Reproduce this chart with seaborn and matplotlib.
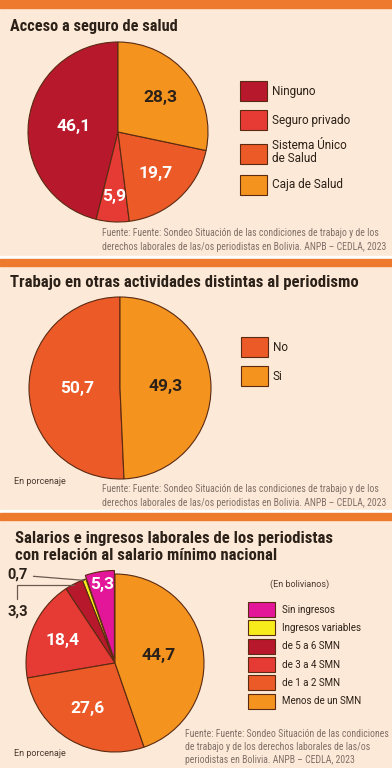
import matplotlib
matplotlib.use("Agg")
import matplotlib.pyplot as plt
import matplotlib.font_manager as fm
from matplotlib.patches import Rectangle
import seaborn as sns
import numpy as np

# Datos de los tres graficos
seguro_labels = ["Ninguno", "Seguro privado", "Sistema Único\nde Salud", "Caja de Salud"]
seguro_values = [46.1, 5.9, 19.7, 28.3]

trabajo_labels = ["No", "Si"]
trabajo_values = [50.7, 49.3]

salario_labels = ["Sin ingresos", "Ingresos variables", "de 5 a 6 SMN",
                  "de 3 a 4 SMN", "de 1 a 2 SMN", "Menos de un SMN"]
salario_values = [5.3, 0.7, 3.3, 18.4, 27.6, 44.7]

fuente_1 = ["Fuente: Fuente: Sondeo Situación de las condiciones de trabajo y de los",
            "derechos laborales de las/os periodistas en Bolivia. ANPB – CEDLA, 2023"]
fuente_3 = ["Fuente: Fuente: Sondeo Situación de las condiciones",
            "de trabajo y de los derechos laborales de las/os",
            "periodistas en Bolivia. ANPB – CEDLA, 2023"]

BG = "#fde9d7"
ORANGE_BAR = "#ee7a2e"
EDGE = "#5a2a12"
DARK = "#2b2118"
GRAY = "#7f7068"

C_DARKRED = "#b8182c"
C_RED = "#e63a34"
C_ORANGERED = "#ec5a27"
C_ORANGE = "#f5931f"
C_MAGENTA = "#e3169a"
C_YELLOW = "#f7eb1c"

sns.set_theme(style="white")
BODY_FONT = ["Roboto", "DejaVu Sans"]
plt.rcParams["font.family"] = BODY_FONT


# buscar una fuente estrecha para titulos y fuentes
def pick_narrow():
    entries = fm.fontManager.ttflist
    names = {e.name for e in entries}
    for name in ["Liberation Sans Narrow", "Roboto Condensed", "Open Sans Condensed",
                 "Noto Sans Condensed", "DejaVu Sans Condensed", "Fira Sans Condensed"]:
        if name in names:
            return dict(family=[name, "DejaVu Sans"])
    for fam in ["Roboto", "Open Sans", "Noto Sans", "DejaVu Sans", "Liberation Sans"]:
        if any(e.name == fam and e.stretch in ("condensed", "semi-condensed",
                                                "extra-condensed") for e in entries):
            return dict(family=[fam, "DejaVu Sans"], fontstretch="condensed")
    return dict(family=["Roboto", "DejaVu Sans"])


NARROW = pick_narrow()

W, H = 392, 768
fig = plt.figure(figsize=(W / 100, H / 100), dpi=100)
fig.patch.set_facecolor(BG)
renderer = fig.canvas.get_renderer()


def fx(x):
    return x / W


def fy(y):
    return 1 - y / H


def fit_width(text, target_px):
    # ajusta el tamano para que el texto ocupe el ancho del original
    w = text.get_window_extent(renderer=renderer).width
    text.set_fontsize(text.get_fontsize() * target_px / w)


# fondo: separadores y barras naranjas
for y0, y1, col in [(256, 259, "white"), (510, 513, "white"),
                    (0, 8, ORANGE_BAR), (259, 266, ORANGE_BAR), (513, 520, ORANGE_BAR)]:
    fig.patches.append(Rectangle((0, fy(y1)), 1, (y1 - y0) / H, transform=fig.transFigure,
                                 color=col, zorder=0))


def title(x, y, s, width):
    t = fig.text(fx(x), fy(y), s, ha="left", va="center", fontsize=12,
                 fontweight="bold", color=DARK, **NARROW)
    fit_width(t, width)
    return t


def fuente(lines, x, y0, step, width):
    texts = [fig.text(fx(x), fy(y0 + i * step), line, ha="left", va="center",
                      fontsize=6.3, color=GRAY, **NARROW)
             for i, line in enumerate(lines)]
    w = texts[0].get_window_extent(renderer=renderer).width
    for t in texts:
        t.set_fontsize(t.get_fontsize() * width / w)


def pie_axes(cx, cy, r, pad=1.08):
    size = 2 * r * pad
    ax = fig.add_axes([fx(cx - size / 2), fy(cy + size / 2), size / W, size / H])
    ax.set_facecolor("none")
    return ax


def draw_pie(ax, values, colors, text_colors, dists, explode=None, pad=1.08):
    wedges, _ = ax.pie(values, colors=colors, startangle=90, counterclock=True,
                       explode=explode,
                       wedgeprops=dict(edgecolor=EDGE, linewidth=0.8))
    ax.set_xlim(-pad, pad)
    ax.set_ylim(-pad, pad)
    ax.set_aspect("equal")
    for w, v, tc, d in zip(wedges, values, text_colors, dists):
        if d is None:
            continue
        ang = np.deg2rad((w.theta1 + w.theta2) / 2)
        ax.text(w.center[0] + d * np.cos(ang), w.center[1] + d * np.sin(ang),
                f"{v:.1f}".replace(".", ","), ha="center", va="center",
                color=tc, fontsize=12.5, fontweight="bold", family=BODY_FONT)
    return wedges


def legend(ax, wedges, labels, x, y, fs, hl, hh, pad, spacing):
    leg = ax.legend(wedges, labels, loc="upper left",
                    bbox_to_anchor=(fx(x), fy(y)), bbox_transform=fig.transFigure,
                    frameon=False, fontsize=fs, handlelength=hl, handleheight=hh,
                    handletextpad=pad, labelspacing=spacing, borderpad=0,
                    borderaxespad=0)
    for t in leg.get_texts():
        t.set_color(DARK)
    return leg


# ---------- Panel 1: Acceso a seguro de salud ----------
title(10, 26, "Acceso a seguro de salud", 167)
ax1 = pie_axes(118, 132, 90)
w1 = draw_pie(ax1, seguro_values, [C_DARKRED, C_RED, C_ORANGERED, C_ORANGE],
              ["white", "white", "white", DARK], [0.5, 0.72, 0.62, 0.6])
leg1 = legend(ax1, w1, seguro_labels, 240, 81, 8.5, 2.29, 2.2, 0.42, 0.8)
leg1.get_texts()[2].set_linespacing(1.0)
fuente(fuente_1, 102, 233, 13.5, 276)

# ---------- Panel 2: Trabajo en otras actividades ----------
title(10, 282, "Trabajo en otras actividades distintas al periodismo", 348)
ax2 = pie_axes(120, 388, 91)
w2 = draw_pie(ax2, trabajo_values, [C_ORANGERED, C_ORANGE], ["white", DARK],
              [0.47, 0.5])
legend(ax2, w2, trabajo_labels, 241, 337, 8.5, 2.29, 2.25, 0.42, 0.75)
fig.text(fx(14), fy(481), "En porcenaje", ha="left", va="center", fontsize=6.5,
         color="#4a3a30")
fuente(fuente_1, 102, 489, 13.5, 276)

# ---------- Panel 3: Salarios ----------
title(15, 539, "Salarios e ingresos laborales de los periodistas", 317)
title(15, 556, "con relación al salario mínimo nacional", 262)
ax3 = pie_axes(115, 663, 89, pad=1.12)
w3 = draw_pie(ax3, salario_values,
              [C_MAGENTA, C_YELLOW, C_DARKRED, C_RED, C_ORANGERED, C_ORANGE],
              ["white", None, None, "white", "white", DARK],
              [0.86, None, None, 0.64, 0.6, 0.5],
              explode=[0.04, 0, 0, 0, 0, 0], pad=1.12)

# etiquetas externas con lineas guia
for idx, txt_xy, style in [(1, (fx(7), fy(575)), "arc3"),
                           (2, (fx(7), fy(612)), "angle,angleA=90,angleB=0,rad=0")]:
    w = w3[idx]
    ang = np.deg2rad((w.theta1 + w.theta2) / 2)
    ax3.annotate(f"{salario_values[idx]:.1f}".replace(".", ","),
                 xy=(0.99 * np.cos(ang), 0.99 * np.sin(ang)), xycoords="data",
                 xytext=txt_xy, textcoords="figure fraction", ha="left", va="center",
                 fontsize=10.5, fontweight="bold", color=DARK,
                 arrowprops=dict(arrowstyle="-", color="#6a5a50", lw=0.9,
                                 connectionstyle=style, shrinkA=2, shrinkB=0))

fig.text(fx(300), fy(584), "(En bolivianos)", ha="center", va="center",
         fontsize=6.5, color="#4a3a30")
legend(ax3, w3, salario_labels, 248, 602, 7, 2.78, 2.0, 0.72, 0.34)
fig.text(fx(14), fy(754), "En porcenaje", ha="left", va="center", fontsize=6.5,
         color="#4a3a30")
fuente(fuente_3, 185, 734, 13, 202)

fig.savefig("out.png", dpi=100, facecolor=BG)
